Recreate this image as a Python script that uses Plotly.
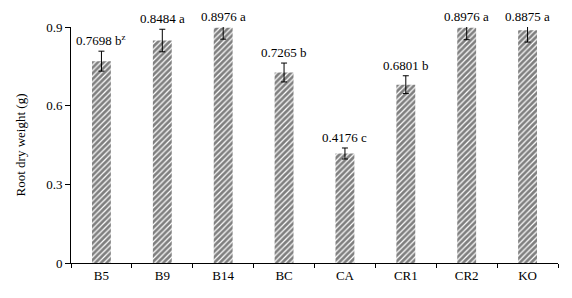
import plotly.graph_objects as go

categories = ["B5", "B9", "B14", "BC", "CA", "CR1", "CR2", "KO"]
values = [0.7698, 0.8484, 0.8976, 0.7265, 0.4176, 0.6801, 0.8976, 0.8875]
errors = [0.038, 0.043, 0.044, 0.036, 0.021, 0.034, 0.046, 0.045]
letters = ["b<sup>z</sup>", "a", "a", "b", "c", "b", "a", "a"]
y_ticks = [0, 0.3, 0.6, 0.9]
y_tick_text = ["0", "0.3", "0.6", "0.9"]
y_max = 0.9

font = dict(family="Times New Roman, Liberation Serif, serif", size=13, color="black")

fig = go.Figure()
fig.add_trace(go.Bar(
    x=categories, y=values, width=0.31,
    marker=dict(color="white", line=dict(width=0),
                pattern=dict(shape="/", fgcolor="black", bgcolor="white", size=4, solidity=0.7)),
    error_y=dict(type="data", array=errors, visible=True, color="black", thickness=1, width=3),
    cliponaxis=True,
))

for c, v, e, l in zip(categories, values, errors, letters):
    top = min(v + e, y_max)
    fig.add_annotation(x=c, y=top, text=f"{v:.4f} {l}", showarrow=False,
                       yanchor="bottom", yshift=1, font=font)

fig.update_layout(
    width=564, height=290,
    margin=dict(l=63, r=14, t=15, b=35),
    plot_bgcolor="white", paper_bgcolor="white",
    font=font, showlegend=False,
    xaxis=dict(showline=True, linecolor="black", linewidth=1, ticks="outside",
               tickson="boundaries", ticklen=4, tickcolor="black", showgrid=False,
               tickfont=font),
    yaxis=dict(range=[0, y_max], tickvals=y_ticks, ticktext=y_tick_text,
               showline=True, linecolor="black", linewidth=1, ticks="outside",
               ticklen=5, tickcolor="black", showgrid=False, zeroline=False,
               title=dict(text="Root dry weight (g)", font=font, standoff=17),
               tickfont=font),
)

fig.write_html("out.html")
